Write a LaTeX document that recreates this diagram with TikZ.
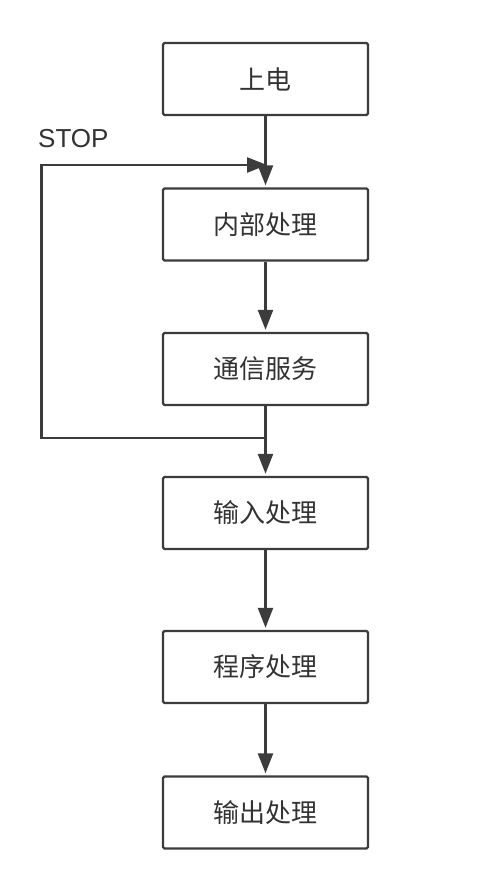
\documentclass[tikz,border=0pt]{standalone}
\usepackage{fontspec}
\setmainfont{Liberation Sans}
\newfontfamily\cjk{Noto Sans CJK SC}
\usetikzlibrary{arrows.meta}
\definecolor{linec}{HTML}{3C3C3C}
\definecolor{textc}{HTML}{333333}
\tikzset{
  procbox/.style={draw=linec, line width=2.4bp, rounded corners=1.5bp, minimum width=205bp, minimum height=72bp, inner sep=0pt, text=textc, font=\cjk\fontsize{26bp}{30bp}\selectfont},
  conn/.style={draw=linec, line width=2.4bp, -{Triangle[length=20bp,width=15bp]}, shorten >=2bp},
  plain/.style={draw=linec, line width=2.4bp}
}
\begin{document}
\begin{tikzpicture}[x=1bp,y=-1bp]
\useasboundingbox[fill=white] (0,0) rectangle (488,894);
\node[procbox] (n1) at (265.5,79) {上电};
\node[procbox] (n2) at (265.5,224.5) {内部处理};
\node[procbox] (n3) at (265.5,369) {通信服务};
\node[procbox] (n4) at (265.5,513) {输入处理};
\node[procbox] (n5) at (265.5,667) {程序处理};
\node[procbox] (n6) at (265.5,812.5) {输出处理};
\node[anchor=base west, inner sep=0pt, text=textc, font=\fontsize{26bp}{30bp}\selectfont] (stop) at (38,147) {STOP};
\coordinate (j) at (265.5,438);
\coordinate (bl) at (41.5,438);
\coordinate (tl) at (41.5,165);
\coordinate (tr) at (267,165);
\draw[conn] (n1) -- (n2);
\draw[conn] (n2) -- (n3);
\draw[conn] (n3) -- (n4);
\draw[conn] (n4) -- (n5);
\draw[conn] (n5) -- (n6);
\draw[plain, -{Triangle[length=20bp,width=15bp]}, line join=miter] (j) -- (bl) -- (tl) -- (tr);
\end{tikzpicture}
\end{document}
